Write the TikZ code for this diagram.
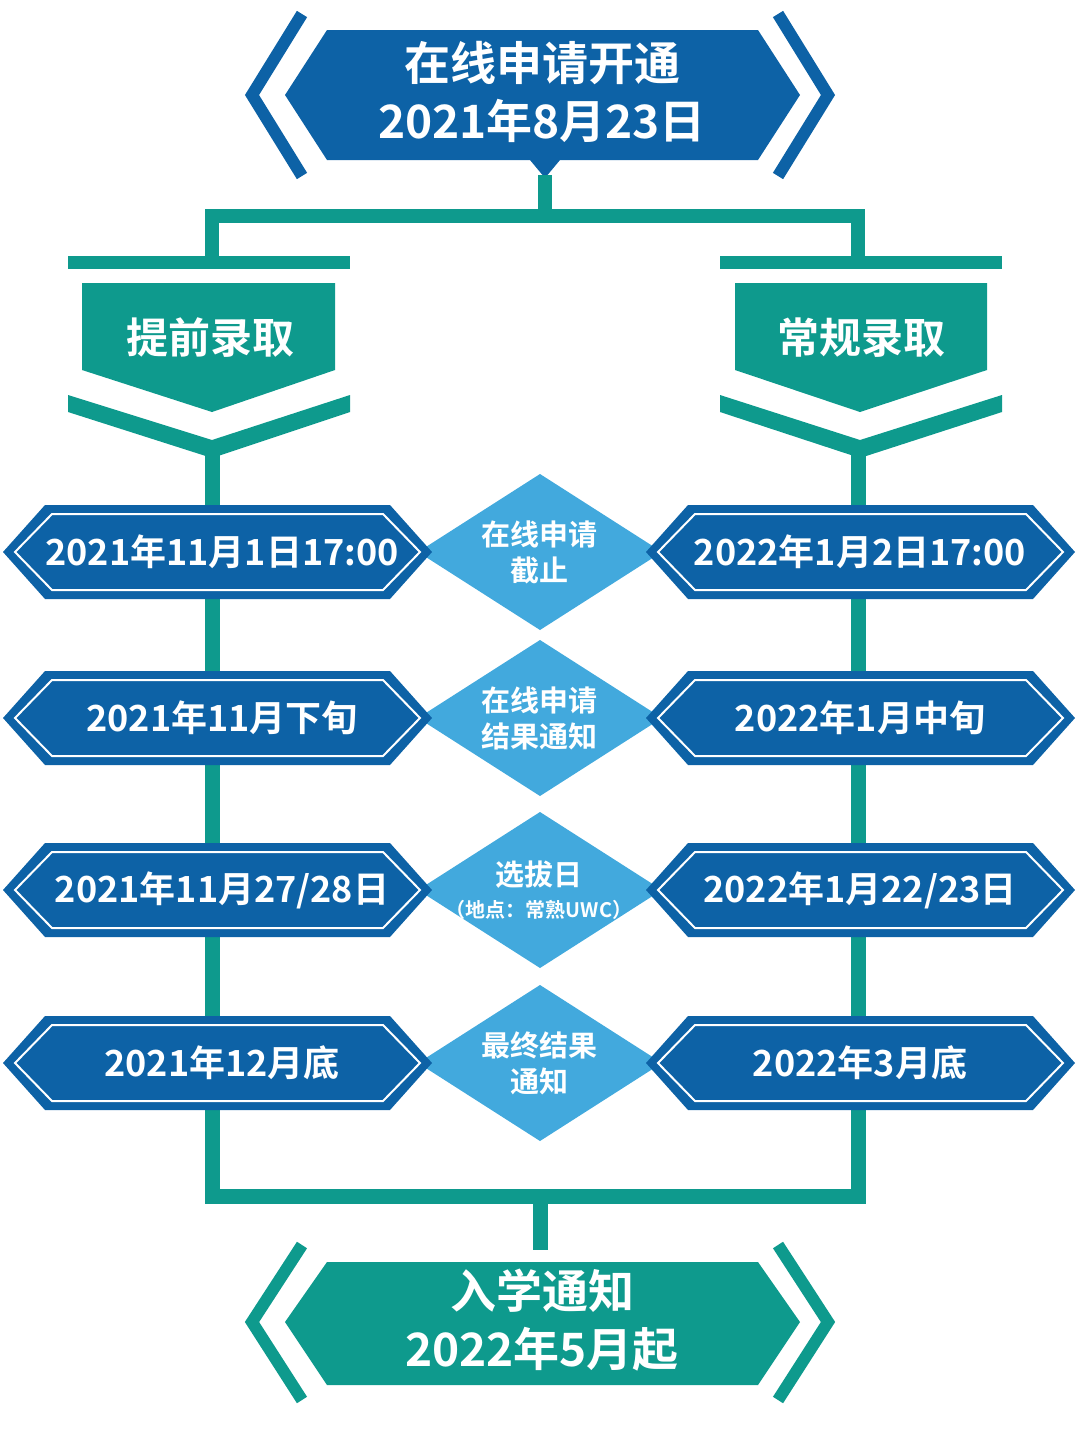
\documentclass[tikz,border=0pt]{standalone}
\usepackage{fontspec}
\setmainfont{Noto Sans CJK SC Bold}
\definecolor{dblue}{HTML}{0D62A6}
\definecolor{teal1}{HTML}{0E9A8D}
\definecolor{lblue}{HTML}{42A9DD}
\begin{document}
\begin{tikzpicture}[x=1pt,y=-1pt,
  conn/.style={draw=teal1,line width=14pt},
  bar/.style={draw=teal1,line width=13pt},
  txt/.style={text=white,font=\fontsize{36}{40}\selectfont,align=center},
  dtxt/.style={text=white,font=\fontsize{29}{36}\selectfont,align=center}]
\useasboundingbox (0,0) rectangle (1080,1444);
% top banner
\fill[dblue] (327,30)--(758,30)--(800,95)--(758,160)--(560,160)--(545,178)--(530,160)--(327,160)--(285,95)--cycle;
\draw[dblue,line width=12pt,line join=miter] (302,14)--(252,95)--(302,176);
\draw[dblue,line width=12pt,line join=miter] (778,14)--(828,95)--(778,176);
\node[txt,font=\fontsize{46}{58}\selectfont] (top) at (542,92) {在线申请开通\\2021年8月23日};
% connectors
\coordinate (tb) at (545,175);
\coordinate (tj) at (545,216);
\draw[conn] (tb)--(tj);
\draw[conn,line cap=rect] (212,216)--(858,216);
\draw[conn] (212,216)--(212,262) (858,216)--(858,262);
\draw[bar] (68,262)--(350,262) (720,262)--(1002,262);
% pentagons
\fill[teal1] (82,283)--(335,283)--(335,370)--(212,412)--(82,370)--cycle;
\fill[teal1] (735,283)--(987,283)--(987,370)--(860,412)--(735,370)--cycle;
\node[txt,font=\fontsize{42}{48}\selectfont] (L) at (210,338) {提前录取};
\node[txt,font=\fontsize{42}{48}\selectfont] (R) at (861,338) {常规录取};
\fill[teal1] (68,395)--(212,440)--(350,395)--(350,412)--(212,458)--(68,412)--cycle;
\fill[teal1] (720,395)--(860,440)--(1002,395)--(1002,412)--(860,458)--(720,412)--cycle;
\draw[conn,line width=15pt] (212,450)--(212,1196)--(858,1196)--(858,450);
\draw[conn,line width=15pt] (540,1196)--(540,1250);
% rows
\foreach \y/\a/\d/\b in {552/{2021年11月1日17:00}/{在线申请\\截止}/{2022年1月2日17:00},
                         718/{2021年11月下旬}/{在线申请\\结果通知}/{2022年1月中旬},
                         890/{2021年11月27/28日}/{选拔日\\[-4pt]{\fontsize{20}{22}\selectfont （地点：常熟UWC）}}/{2022年1月22/23日},
                         1063/{2021年12月底}/{最终结果\\通知}/{2022年3月底}}{
  \fill[lblue] (540,\y-78)--(662,\y)--(540,\y+78)--(418,\y)--cycle;
  \fill[dblue] (45,\y-47)--(390,\y-47)--(432,\y)--(390,\y+47)--(45,\y+47)--(3,\y)--cycle;
  \draw[white,line width=2pt] (52,\y-38)--(383,\y-38)--(420,\y)--(383,\y+38)--(52,\y+38)--(15,\y)--cycle;
  \fill[dblue] (688,\y-47)--(1033,\y-47)--(1075,\y)--(1033,\y+47)--(688,\y+47)--(646,\y)--cycle;
  \draw[white,line width=2pt] (695,\y-38)--(1026,\y-38)--(1063,\y)--(1026,\y+38)--(695,\y+38)--(658,\y)--cycle;
  \node[txt] at (222,\y) {\a};
  \node[dtxt] at (539,\y) {\d};
  \node[txt] at (860,\y) {\b};
}
% bottom banner
\fill[teal1] (327,1262)--(758,1262)--(800,1322)--(758,1385)--(327,1385)--(285,1322)--cycle;
\draw[teal1,line width=12pt,line join=miter] (302,1245)--(252,1322)--(302,1400);
\draw[teal1,line width=12pt,line join=miter] (778,1245)--(828,1322)--(778,1400);
\node[txt,font=\fontsize{46}{58}\selectfont] (bot) at (542,1320) {入学通知\\2022年5月起};
\end{tikzpicture}
\end{document}
